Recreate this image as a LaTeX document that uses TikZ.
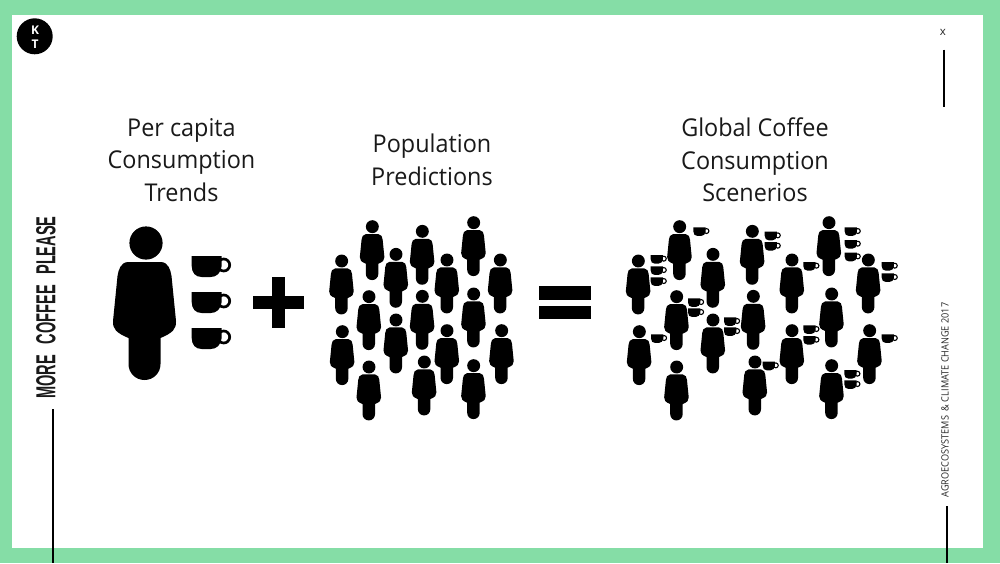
\documentclass[tikz,border=0pt]{standalone}
\usepackage{fontspec}
\setmainfont{Open Sans}
\newfontfamily\condfont{Liberation Sans}
\definecolor{framegreen}{HTML}{85DDA6}
\tikzset{
  x=1pt,y=-1pt,
  titletext/.style={font=\fontsize{24.5}{32.5}\selectfont,align=center,inner sep=0pt,text=black!90,xscale=.955,transform shape},
  barline/.style={draw=black,line width=2.4pt},
}
% head centre at (#1,#2), scale #3; body drawn in units of the large figure
\newcommand\personat[3]{%
  \fill[black,shift={(#1,#2)},scale=#3] (0,0) circle[radius=16.6];
  \fill[black,shift={(#1,#2)},scale=#3,xshift=-1.5*#3pt]
    (-16,19) -- (16,19) .. controls (24,19) and (26,27) .. (27,33)
    -- (31.5,78) .. controls (32,86) and (28,90) .. (16,95)
    -- (16,121) .. controls (16,130) and (9,137) .. (0,137)
    .. controls (-9,137) and (-16,130) .. (-16,121)
    -- (-16,95) .. controls (-28,90) and (-32,86) .. (-31.5,78)
    -- (-27,33) .. controls (-26,27) and (-24,19) .. (-16,19) -- cycle;
}
% top-left corner of cup at (#1,#2), scale #3
\newcommand\cupat[3]{%
  \draw[black,shift={(#1,#2)},scale=#3,line width=#3*2.7pt] (32,9) circle[radius=6];
  \fill[black,shift={(#1,#2)},scale=#3]
    (0,0) -- (30,0) -- (30,10) .. controls (29,17) and (25,21) .. (19,21)
    -- (10,21) .. controls (4,21) and (0,17) .. (0,10) -- cycle;
}
\begin{document}
\begin{tikzpicture}
\useasboundingbox (0,0) rectangle (1000,563);
\fill[framegreen] (0,0) rectangle (1000,563);
\fill[white] (12,15) rectangle (983,548);

% logo
\node[circle,fill=black,minimum size=36pt,inner sep=0pt] (logo) at (34.7,36.3) {};
\node[text=white,font=\fontsize{12}{14}\selectfont\bfseries,inner sep=0pt] (logoK) at (35,30) {K};
\node[text=white,font=\fontsize{12}{14}\selectfont\bfseries,inner sep=0pt] (logoT) at (35,44) {T};

% close mark
\node[font=\fontsize{11.5}{12}\selectfont,inner sep=0pt,text=black!85] (closex) at (942.8,32) {x};
\coordinate (rtA) at (944,49.5); \coordinate (rtB) at (944,107);
\draw[barline] (rtA) -- (rtB);

% side labels
\node[rotate=90,xscale=.53,transform shape,font=\fontsize{27.5}{30}\condfont\bfseries,inner sep=0pt,anchor=center,text=black!90] (side) at (46,307.5) {MORE\hspace{20pt}COFFEE\hspace{20pt}PLEASE};
\coordinate (lA) at (53.3,409); \coordinate (lB) at (53.3,563);
\draw[black,line width=2.2pt] (lA) -- (lB);

\node[rotate=90,xscale=.915,transform shape,font=\fontsize{10}{12}\selectfont,inner sep=0pt,text=black!85] (agro) at (945,400) {AGROECOSYSTEMS\ \ \&\ CLIMATE CHANGE 2017};
\coordinate (rbA) at (946.7,506); \coordinate (rbB) at (946.7,563);
\draw[barline] (rbA) -- (rbB);

% titles
\node[titletext] (t1) at (181.5,160) {Per capita\\Consumption\\Trends};
\node[titletext] (t2) at (432,160) {Population\\Predictions};
\node[titletext] (t3) at (755,160) {Global Coffee\\Consumption\\Scenerios};

% single person with three cups
\personat{146}{243}{1}
\foreach \Y in {256,292,328} {\cupat{191.7}{\Y}{1}}

% plus
\fill[black] (272.3,276.7) rectangle (285,328.3);
\fill[black] (252.7,296) rectangle (304,309);

% population
\foreach \X/\Y in {157/50,65/153,228/133,307/64,381/150,461/38,541/150,147/260,307/259,461/252,67/365,228/330,381/362,545/362,147/471,313/456,461/467}
  {\personat{320+\X/3}{210+\Y/3}{.39}}

% equals
\fill[black] (539,286) rectangle (590.7,299.5);
\fill[black] (539,305.5) rectangle (590.7,318.7);

% global consumption
\foreach \X/\Y in {194/50,70/153,294/133,412/64,185/260,415/259,73/365,294/330,185/471,420/456}
  {\personat{615+\X/3}{210+\Y/3}{.39}}
\foreach \X/\Y in {237/38,126/150,355/150,245/252,126/362,359/362,245/467}
  {\personat{750+\X/3}{210+\Y/3}{.39}}
\foreach \X/\Y in {107/135,107/169,107/202,235/52,219/265,219/295,327/322,327/352,108/373}
  {\cupat{615+\X/3}{210+\Y/3}{.41}}
\foreach \X/\Y in {44/65,44/96,284/52,284/90,284/128,160/156,395/156,395/190,160/346,160/378,38/455,395/373,283/480,283/511}
  {\cupat{750+\X/3}{210+\Y/3}{.41}}
\end{tikzpicture}
\end{document}
